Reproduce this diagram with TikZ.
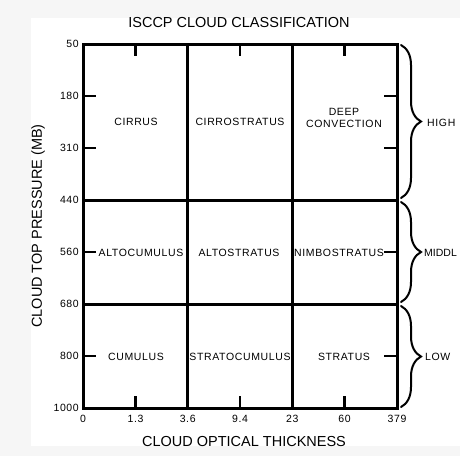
\documentclass[tikz,border=0pt]{standalone}
\usepackage{fontspec}
\setmainfont{Liberation Sans}
\newfontfamily\smallfont[LetterSpace=6]{Liberation Sans}
\usetikzlibrary{decorations.pathreplacing}
\definecolor{bggray}{RGB}{246,246,246}
\tikzset{grid/.style={line width=3pt},
  tick/.style={line width=2.5pt},
  lbl/.style={font=\smallfont\fontsize{10.5}{12.5}\selectfont, inner sep=0pt, align=center},
  axis/.style={font=\fontsize{14.5}{16}\selectfont, inner sep=0pt},
  curly/.style={decorate, decoration={brace, amplitude=20pt}, line width=2pt, line cap=round}}

\begin{document}
\begin{tikzpicture}[x=1pt,y=-1pt]
  \useasboundingbox[fill=bggray] (0,0) rectangle (460,456);
  \fill[white] (31,18) rectangle (460,446);

  % grid
  \draw[grid] (83,44) rectangle (397,408);
  \foreach \x in {187.7,292.3} \draw[grid] (\x,44) -- (\x,408);
  \foreach \y in {200,304} \draw[grid] (83,\y) -- (397,\y);
  \foreach \x in {135.5,240,344.5} {
    \draw[tick] (\x,44) -- (\x,56);
    \draw[tick] (\x,408) -- (\x,396);}
  \foreach \y in {96,148,252,356} {
    \draw[tick] (83,\y) -- (96,\y);
    \draw[tick] (397,\y) -- (384,\y);}

  % axes
  \foreach \p [count=\k from 0] in {50,180,310,440,560,680,800,1000}
    \node[lbl, anchor=east] (p\k) at (79,{44+52*\k}) {\p};
  \foreach \v/\x [count=\k] in {0/83,1.3/135.5,3.6/187.7,9.4/240,23/292.3,60/344.5,379/397}
    \node[lbl] (t\k) at (\x,419) {\v};
  \node[axis] (title) at (239,23) {ISCCP CLOUD CLASSIFICATION};
  \node[axis] (xlabel) at (244,441) {CLOUD OPTICAL THICKNESS};
  \node[axis, rotate=90] (ylabel) at (38,226) {CLOUD TOP PRESSURE (MB)};

  % cloud types
  \node[lbl] (ci) at (136,122) {CIRRUS};
  \node[lbl] (cs) at (240,122) {CIRROSTRATUS};
  \node[lbl] (dc) at (344,118) {DEEP\\CONVECTION};
  \node[lbl] (ac) at (141,253) {ALTOCUMULUS};
  \node[lbl] (as) at (239,253) {ALTOSTRATUS};
  \node[lbl] (ns) at (339,253) {NIMBOSTRATUS};
  \node[lbl] (cu) at (136,357) {CUMULUS};
  \node[lbl] (sc) at (240,357) {STRATOCUMULUS};
  \node[lbl] (st) at (344,357) {STRATUS};

  % levels
  \draw[curly] (401,45) -- (401,198);
  \draw[curly] (401,202) -- (401,302);
  \draw[curly] (401,306) -- (401,407);
  \node[lbl, anchor=west] (high) at (427,123) {HIGH};
  \node[lbl, anchor=west, font=\fontsize{10.5}{12.5}\selectfont] (mid) at (424,253) {MIDDL};
  \node[lbl, anchor=west] (low) at (425,357) {LOW};
\end{tikzpicture}
\end{document}
